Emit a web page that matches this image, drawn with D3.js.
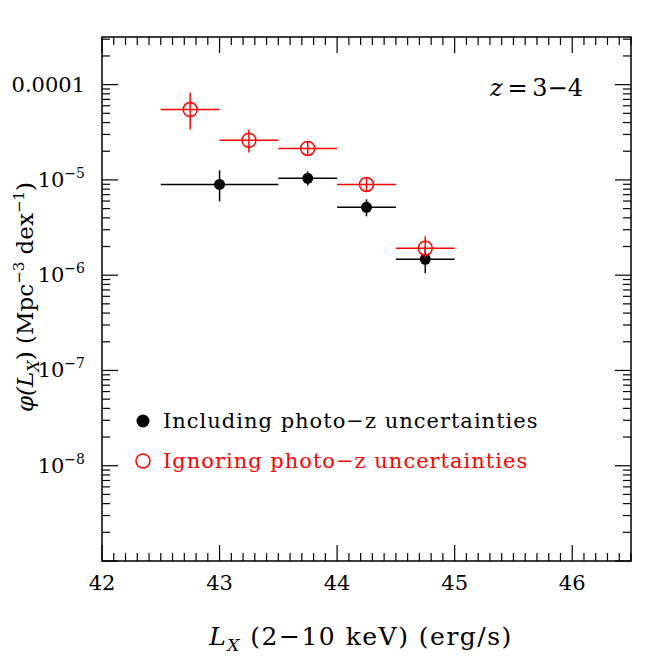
<!DOCTYPE html>
<html>
<head>
<meta charset="utf-8">
<script src="https://cdn.jsdelivr.net/npm/d3@7"></script>
<style>
  body { margin: 0; background: #fff; }
  text { font-family: "DejaVu Serif", serif; }
</style>
</head>
<body>
<div id="chart"></div>
<script>
// log10 L_X bins and space densities
var inclLo  = [42.5, 43.5, 44.0, 44.5];
var inclHi  = [43.5, 44.0, 44.5, 45.0];
var inclX   = [43.0, 43.75, 44.25, 44.75];
var inclPhi = [8.97e-6, 1.04e-5, 5.15e-6, 1.47e-6];
var inclUp  = [1.26e-5, 1.23e-5, 6.25e-6, 2.01e-6];
var inclDn  = [5.96e-6, 8.75e-6, 4.15e-6, 1.05e-6];

var ignLo  = [42.5, 43.0, 43.5, 44.0, 44.5];
var ignHi  = [43.0, 43.5, 44.0, 44.5, 45.0];
var ignX   = [42.75, 43.25, 43.75, 44.25, 44.75];
var ignPhi = [5.47e-5, 2.6e-5, 2.14e-5, 8.97e-6, 1.92e-6];
var ignUp  = [8.25e-5, 3.38e-5, 2.53e-5, 1.04e-5, 2.56e-6];
var ignDn  = [3.38e-5, 1.94e-5, 1.81e-5, 7.59e-6, 1.51e-6];

var xTicks = [42, 43, 44, 45, 46];
var yTicks = [1e-4, 1e-5, 1e-6, 1e-7, 1e-8];
var yTickExp = [-4, -5, -6, -7, -8];

var margin = { left: 102, top: 37, right: 33, bottom: 103 };
var W = 664, H = 664;
var width = W - margin.left - margin.right;
var height = H - margin.top - margin.bottom;

var svg = d3.select('#chart').append('svg')
  .attr('width', W)
  .attr('height', H);

var g = svg.append('g')
  .attr('transform', 'translate(' + margin.left + ',' + margin.top + ')');

var x = d3.scaleLinear().domain([42, 46.5]).range([0, width]);
var y = d3.scaleLog().domain([1e-9, Math.pow(10, -3.5)]).range([height, 0]);

// minor / major ticks
var xMinor = d3.range(42, 46.5001, 0.1).map(function(v) { return Math.round(v * 10) / 10; });
var yMinor = [];
for (var e = -9; e <= -4; e++) {
  for (var m = 1; m < 10; m++) {
    var v = m * Math.pow(10, e);
    if (v <= Math.pow(10, -3.5) * 1.0001) yMinor.push(v);
  }
}
function isMajorX(v) { return Math.abs(v - Math.round(v)) < 1e-6; }
function isMajorY(v) { var l = Math.log10(v); return Math.abs(l - Math.round(l)) < 1e-6; }

var majLen = 16, minLen = 8;
var ticks = g.append('g').attr('stroke', '#000').attr('stroke-width', 1.2);

xMinor.forEach(function(v) {
  var L = isMajorX(v) ? majLen : minLen;
  ticks.append('line').attr('x1', x(v)).attr('x2', x(v)).attr('y1', height).attr('y2', height - L);
  ticks.append('line').attr('x1', x(v)).attr('x2', x(v)).attr('y1', 0).attr('y2', L);
});
yMinor.forEach(function(v) {
  var L = isMajorY(v) ? majLen : minLen;
  ticks.append('line').attr('x1', 0).attr('x2', L).attr('y1', y(v)).attr('y2', y(v));
  ticks.append('line').attr('x1', width).attr('x2', width - L).attr('y1', y(v)).attr('y2', y(v));
});

g.append('rect')
  .attr('width', width).attr('height', height)
  .attr('fill', 'none').attr('stroke', '#000').attr('stroke-width', 1.5);

// tick labels
g.selectAll('.xlab').data(xTicks).enter().append('text')
  .attr('class', 'xlab')
  .attr('x', function(d) { return x(d); })
  .attr('y', height + 29)
  .attr('text-anchor', 'middle')
  .style('font-size', '21px')
  .text(function(d) { return d; });

yTicks.forEach(function(d, i) {
  var t = g.append('text')
    .attr('x', -17)
    .attr('y', y(d) + 7)
    .attr('text-anchor', 'end')
    .style('font-size', '21px');
  if (i === 0) {
    t.text('0.0001');
  } else {
    t.append('tspan').text('10');
    t.append('tspan').attr('dy', -9).style('font-size', '14px').text('\u2212' + (-yTickExp[i]));
  }
});

// error bars + markers
function drawSeries(lo, hi, xs, phi, up, dn, color, filled) {
  var s = g.append('g');
  var idx = d3.range(xs.length);
  s.selectAll('.hb').data(idx).enter().append('line')
    .attr('x1', function(i) { return x(lo[i]); })
    .attr('x2', function(i) { return x(hi[i]); })
    .attr('y1', function(i) { return y(phi[i]); })
    .attr('y2', function(i) { return y(phi[i]); })
    .attr('stroke', color).attr('stroke-width', 1.5);
  s.selectAll('.vb').data(idx).enter().append('line')
    .attr('x1', function(i) { return x(xs[i]); })
    .attr('x2', function(i) { return x(xs[i]); })
    .attr('y1', function(i) { return y(up[i]); })
    .attr('y2', function(i) { return y(dn[i]); })
    .attr('stroke', color).attr('stroke-width', 1.5);
  s.selectAll('.pt').data(idx).enter().append('circle')
    .attr('cx', function(i) { return x(xs[i]); })
    .attr('cy', function(i) { return y(phi[i]); })
    .attr('r', filled ? 5.5 : 7)
    .attr('fill', filled ? color : 'none')
    .attr('stroke', color).attr('stroke-width', filled ? 0 : 1.5);
}
drawSeries(inclLo, inclHi, inclX, inclPhi, inclUp, inclDn, '#000', true);
drawSeries(ignLo, ignHi, ignX, ignPhi, ignUp, ignDn, '#ff0000', false);

// legend
var leg = g.append('g');
leg.append('circle').attr('cx', 41).attr('cy', 384).attr('r', 6.5).attr('fill', '#000');
leg.append('text').attr('x', 61).attr('y', 391).style('font-size', '21px')
  .style('letter-spacing', '1px')
  .text('Including photo\u2212z uncertainties');
leg.append('circle').attr('cx', 41).attr('cy', 424).attr('r', 7).attr('fill', 'none')
  .attr('stroke', '#ff0000').attr('stroke-width', 1.5);
leg.append('text').attr('x', 61).attr('y', 431).style('font-size', '21px').attr('fill', '#ff0000')
  .style('letter-spacing', '1px')
  .text('Ignoring photo\u2212z uncertainties');

// redshift label
var zl = g.append('text').attr('x', width - 48).attr('y', 59).attr('text-anchor', 'end')
  .style('font-size', '24px');
zl.append('tspan').style('font-style', 'italic').text('z');
zl.append('tspan').text('\u2009=\u20093\u22124');

// axis titles
var xt = svg.append('text').attr('x', 361).attr('y', 645).attr('text-anchor', 'middle')
  .style('font-size', '25px').style('letter-spacing', '1.5px');
xt.append('tspan').style('font-style', 'italic').text('L');
xt.append('tspan').attr('dy', 6).style('font-size', '17px').style('font-style', 'italic').text('X');
xt.append('tspan').attr('dy', -6).text(' (2\u221210 keV)  (erg/s)');

var yt = svg.append('text')
  .attr('transform', 'translate(33,297) rotate(-90)')
  .attr('text-anchor', 'middle')
  .style('font-size', '23px');
yt.append('tspan').style('font-style', 'italic').text('\u03c6(L');
yt.append('tspan').attr('dy', 6).style('font-size', '16px').style('font-style', 'italic').text('X');
yt.append('tspan').attr('dy', -6).text(')  (Mpc');
yt.append('tspan').attr('dy', -9).style('font-size', '15px').text('\u22123');
yt.append('tspan').attr('dy', 9).text(' dex');
yt.append('tspan').attr('dy', -9).style('font-size', '15px').text('\u22121');
yt.append('tspan').attr('dy', 9).text(')');
</script>
</body>
</html>
